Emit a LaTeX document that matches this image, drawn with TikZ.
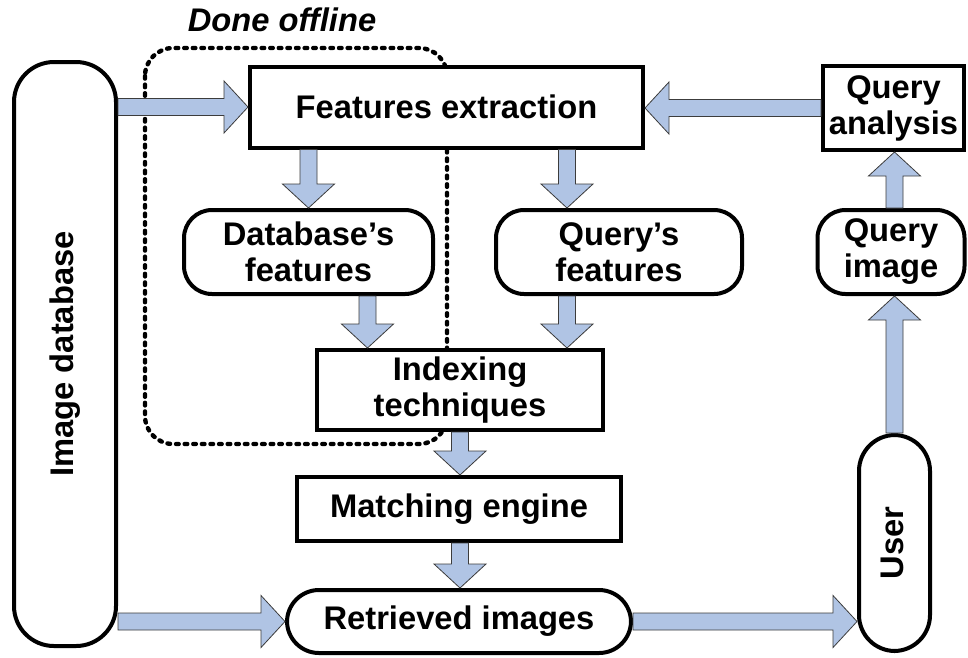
\documentclass[tikz,border=0pt]{standalone}
\usepackage{fontspec}
\setmainfont{Liberation Sans}
\usetikzlibrary{calc}

\definecolor{arrowfill}{RGB}{176,196,228}
\definecolor{arrowline}{RGB}{60,60,60}

% Block arrow from #1 to #2 (coordinates or anchor expressions)
\newcommand\blockarrow[2]{%
  \coordinate (ba-s) at (#1);
  \coordinate (ba-e) at (#2);
  \coordinate (ba-h) at ($(ba-e)!24pt!(ba-s)$);
  \draw[barrow]
    ($(ba-s)!8.5pt!90:(ba-e)$) -- ($(ba-h)!8.5pt!90:(ba-e)$) --
    ($(ba-h)!26pt!90:(ba-e)$) -- (ba-e) --
    ($(ba-h)!26pt!-90:(ba-e)$) -- ($(ba-h)!8.5pt!-90:(ba-e)$) --
    ($(ba-s)!8.5pt!-90:(ba-e)$) -- cycle;
}

\begin{document}
\begin{tikzpicture}[x=1pt,y=-1pt,
  txt/.style={font=\fontsize{32.7}{36}\selectfont\bfseries, align=center},
  sqbox/.style={draw, line width=4pt, fill=white, txt, inner sep=0pt},
  rbox/.style={sqbox, rounded corners=#1},
  rbox/.default=28pt,
  barrow/.style={fill=arrowfill, draw=arrowline, line width=0.8pt, line join=miter},
  offline/.style={line width=4.4pt, dash pattern=on 2.6pt off 6pt, line cap=round}
]
\useasboundingbox (0,0) rectangle (968,657);

% region of the offline steps
\draw[offline, rounded corners=28pt] (145,48) rectangle (447,444);
\node[txt, font=\fontsize{32.7}{36}\selectfont\bfseries\itshape] (offlbl) at (282,20) {Done offline};

% boxes
\node[rbox=40pt, minimum width=102, minimum height=584] (imgdb) at (65,354) {};
\node[txt, rotate=90] (imgdbtxt) at (imgdb.center) {Image database};

\node[sqbox, minimum width=393, minimum height=81] (feat) at (446.5,107) {Features extraction};
\node[sqbox, minimum width=141, minimum height=84] (qa) at (893.5,108) {Query\\analysis};

\node[rbox, minimum width=249, minimum height=84] (dbf) at (308.5,252) {Database's\\features};
\node[rbox, minimum width=246, minimum height=84] (qf) at (619,252) {Query's\\features};
\node[rbox, minimum width=147, minimum height=84] (qi) at (891,252) {Query\\image};

\node[sqbox, minimum width=286, minimum height=80] (idx) at (460,390) {Indexing\\techniques};
\node[sqbox, minimum width=324, minimum height=64] (me) at (459,509) {Matching engine};
\node[rbox=32pt, minimum width=344, minimum height=63] (ri) at (459,621.5) {Retrieved images};

\node[rbox=36pt, minimum width=71, minimum height=216] (user) at (894.5,543) {};
\node[txt, rotate=90] (usertxt) at ([xshift=-2pt]user.center) {User};

% reference points for off-centre arrows
\coordinate (q3) at ([xshift=-52pt]qf.north);
\coordinate (d6) at ([xshift=59pt]dbf.south);

% arrows
\blockarrow{imgdb.east |- feat.west}{feat.west}
\blockarrow{qa.west}{qa.west -| feat.east}
\blockarrow{feat.south -| dbf.north}{dbf.north}
\blockarrow{feat.south -| q3}{q3}
\blockarrow{qi.north -| user.north}{qa.south -| user.north}
\blockarrow{user.north}{user.north |- qi.south}
\blockarrow{d6}{idx.north -| d6}
\blockarrow{qf.south -| q3}{idx.north -| q3}
\blockarrow{idx.south}{idx.south |- me.north}
\blockarrow{me.south -| idx.south}{ri.north -| idx.south}
\blockarrow{imgdb.east |- ri.west}{ri.west}
\blockarrow{ri.east}{user.west |- ri.east}
\end{tikzpicture}
\end{document}
